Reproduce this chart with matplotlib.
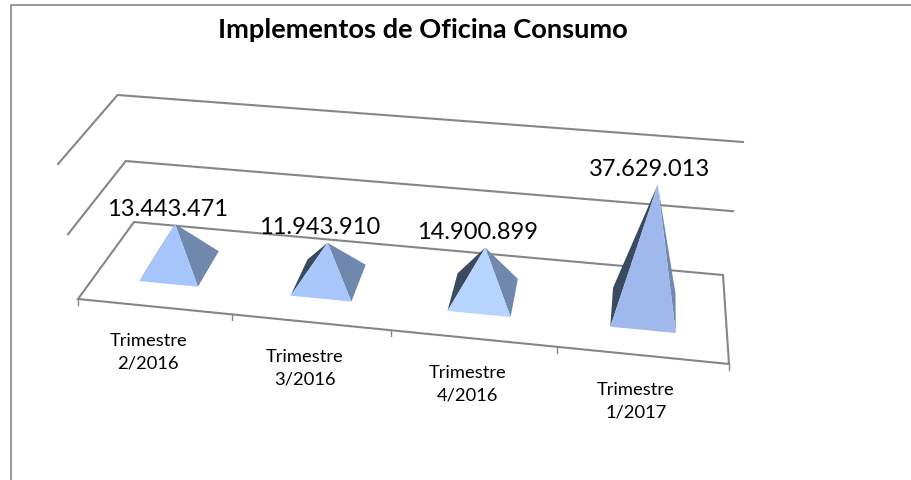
"""Implementos de Oficina Consumo - pirâmides 3D desenhadas com projeção própria."""
import numpy as np
import matplotlib
matplotlib.use("Agg")
import matplotlib.pyplot as plt
from matplotlib.patches import Polygon

plt.rcParams["font.family"] = ["Lato", "DejaVu Sans"]

TITULO = "Implementos de Oficina Consumo"
categorias = ["Trimestre\n2/2016", "Trimestre\n3/2016", "Trimestre\n4/2016", "Trimestre\n1/2017"]
valores = [13443471, 11943910, 14900899, 37629013]
rotulos = ["13.443.471", "11.943.910", "14.900.899", "37.629.013"]
cor_frente = ["#a6c6fb", "#a8c8fc", "#b6d4ff", "#9fb9ec"]
niveis = [20000000, 40000000]

COR_LINHA = "#868686"
COR_ESQ = "#3a4a60"
COR_DIR = "#7087ae"
Y_MAX = 40000000
MEIA_LARG = 0.049
V_FRENTE, V_FUNDO = 0.27, 0.72

# cantos do piso em pixels: frente-esq, frente-dir, fundo-dir, fundo-esq
cantos = np.array([[78, 300], [729, 365], [723, 276], [134, 223]], dtype=float)


def homografia(dst):
    src = [(0, 0), (1, 0), (1, 1), (0, 1)]
    A, b = [], []
    for (u, v), (x, y) in zip(src, dst):
        A.append([u, v, 1, 0, 0, 0, -u * x, -v * x])
        A.append([0, 0, 0, u, v, 1, -u * y, -v * y])
        b += [x, y]
    return np.append(np.linalg.solve(np.array(A), np.array(b)), 1).reshape(3, 3)


H = homografia(cantos)


def proj(u, v, valor=0.0):
    """u: ao longo das categorias, v: profundidade, valor: altura em unidades do eixo."""
    p = H @ np.array([u, v, 1.0])
    x, y = p[0] / p[2], p[1] / p[2]
    t = valor / Y_MAX
    alt = (135 - v * (8 - 6 * u)) * t * (0.92 + 0.08 * t)
    return x + (x - 400) * 0.062 * t, y - alt


fig = plt.figure(figsize=(9.12, 4.81), dpi=100)
ax = fig.add_axes([0, 0, 1, 1])
ax.set_xlim(0, 912)
ax.set_ylim(481, 0)
ax.axis("off")

# moldura (só topo e esquerda aparecem no recorte)
ax.plot([11, 11, 912], [481, 5.5, 5.5], color=COR_LINHA, lw=1.2, zorder=1)
ax.text(423, 30, TITULO, fontsize=19.6, fontweight="bold", ha="center", va="center")

# grades
for nivel in niveis:
    pts = [proj(0, 0, nivel), proj(0, 1, nivel), proj(1, 1, nivel)]
    ax.plot(*zip(*pts), color=COR_LINHA, lw=1.5, zorder=2)

# piso
ax.add_patch(Polygon([proj(0, 0), proj(1, 0), proj(1, 1), proj(0, 1)], closed=True,
                     fill=False, ec=COR_LINHA, lw=1.5, zorder=2))

n = len(valores)
for i in range(n + 1):
    x, y = proj(i / n, 0)
    ax.plot([x, x], [y, y + 6], color=COR_LINHA, lw=1, zorder=2)

for i, (val, rot, cat, cor) in enumerate(zip(valores, rotulos, categorias, cor_frente)):
    uc = (i + 0.5) / n
    fe = proj(uc - MEIA_LARG, V_FRENTE)
    fd = proj(uc + MEIA_LARG, V_FRENTE)
    td = proj(uc + MEIA_LARG, V_FUNDO)
    te = proj(uc - MEIA_LARG, V_FUNDO)
    topo = proj(uc, (V_FRENTE + V_FUNDO) / 2, val)
    ax.add_patch(Polygon([fe, te, topo], closed=True, fc=COR_ESQ, ec="none", zorder=3))
    ax.add_patch(Polygon([fd, td, topo], closed=True, fc=COR_DIR, ec="none", zorder=3))
    ax.add_patch(Polygon([fe, fd, topo], closed=True, fc=cor, ec="none", zorder=4))
    ax.text(topo[0] - 8, topo[1] - 16, rot, fontsize=17, ha="center", va="center", zorder=5)
    xb, yb = proj(uc, 0)
    ax.text(xb - 6, yb + 45, cat, fontsize=13.2, ha="center", va="center", linespacing=1.5, zorder=5)

fig.savefig("out.png", dpi=100)
